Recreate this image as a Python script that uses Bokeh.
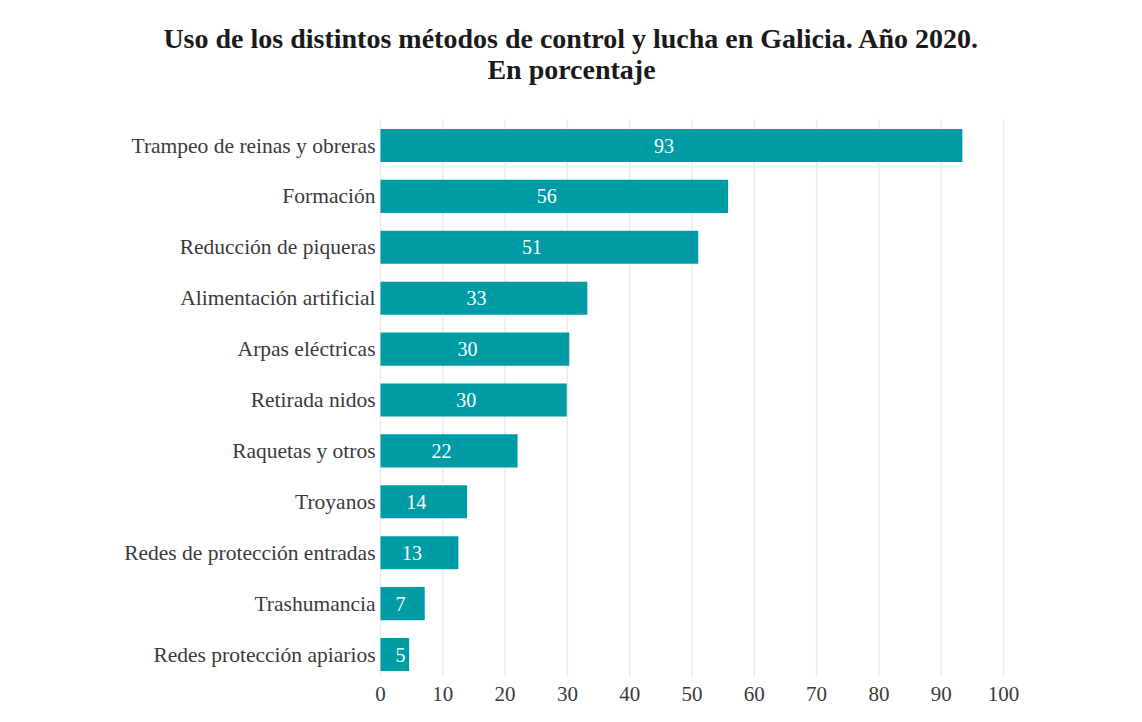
import numpy as np
from bokeh.plotting import figure
from bokeh.models import ColumnDataSource, Range1d, FixedTicker
from bokeh.core.properties import value
from bokeh.embed import file_html
from bokeh.resources import INLINE

categories = [
    "Trampeo de reinas y obreras",
    "Formación",
    "Reducción de piqueras",
    "Alimentación artificial",
    "Arpas eléctricas",
    "Retirada nidos",
    "Raquetas y otros",
    "Troyanos",
    "Redes de protección entradas",
    "Trashumancia",
    "Redes protección apiarios",
]
percentages = [93.4, 55.8, 51.0, 33.2, 30.3, 29.9, 22.0, 13.9, 12.5, 7.1, 4.6]
x_ticks = [0, 10, 20, 30, 40, 50, 60, 70, 80, 90, 100]

title_lines = [
    "Uso de los distintos métodos de control y lucha en Galicia. Año 2020.",
    "En porcentaje",
]

FONT = "Liberation Serif"
TEXT_COLOR = "#3a3a3a"
BAR_COLOR = "#009ca6"

# ---- layout geometry (pixels) ----
W, H = 1126, 706
BOTTOM = 30                 # room for the x axis labels
FRAME_H = H - BOTTOM
X0_PX = 380                 # pixel of x = 0
PX_PER_X = 6.23             # pixels per percentage point
Y0_PX = 145                 # pixel of first category centre
PX_PER_CAT = 50.9           # pixels per category


def xd(px):
    return (px - X0_PX) / PX_PER_X


def yd(px):
    return (px - Y0_PX) / PX_PER_CAT


p = figure(
    width=W, height=H,
    x_range=Range1d(xd(0), xd(W)),
    y_range=Range1d(yd(FRAME_H), yd(0)),
    output_backend="svg", toolbar_location=None,
    min_border_left=0, min_border_right=0, min_border_top=0, min_border_bottom=BOTTOM,
)
p.title = None
p.outline_line_color = None
p.background_fill_color = "white"
p.border_fill_color = "white"
p.grid.grid_line_color = None
p.yaxis.visible = False

# vertical grid lines, only over the bar area
n = len(categories)
gsrc = ColumnDataSource(dict(x=x_ticks, y0=[-0.51] * len(x_ticks), y1=[n - 1 + 0.51] * len(x_ticks)))
p.segment(x0="x", y0="y0", x1="x", y1="y1", source=gsrc, line_color="#ebebeb", line_width=1.5)

vals = np.array(percentages)
ypos = np.arange(n)
labels = [str(int(np.floor(v + 0.5))) for v in vals]
label_x = np.maximum(vals / 2 - 1.2, 3.2)
source = ColumnDataSource(dict(cat=categories, y=ypos, val=vals, lab=labels, lx=label_x,
                               cx=np.full(n, xd(X0_PX - 5))))

p.hbar(y="y", right="val", left=0, height=0.65, source=source,
       fill_color=BAR_COLOR, line_color=None)

p.text(x="lx", y="y", text="lab", source=source,
       text_font=value(FONT), text_font_size="20px", text_color="white",
       text_align="center", text_baseline="middle")

# category labels
p.text(x="cx", y="y", text="cat", source=source,
       text_font=value(FONT), text_font_size="21.5px", text_color=TEXT_COLOR,
       text_align="right", text_baseline="middle")

# title
tsrc = ColumnDataSource(dict(x=[xd(571)] * 2, y=[yd(38), yd(69)], t=title_lines))
p.text(x="x", y="y", text="t", source=tsrc,
       text_font=value(FONT), text_font_size="28px", text_font_style="bold",
       text_color="#1a1a1a", text_align="center", text_baseline="middle")

p.xaxis.ticker = FixedTicker(ticks=x_ticks)
p.xaxis.axis_line_color = None
p.xaxis.major_tick_line_color = None
p.xaxis.minor_tick_line_color = None
p.xaxis.major_label_text_font = FONT
p.xaxis.major_label_text_font_size = "21px"
p.xaxis.major_label_text_color = TEXT_COLOR
p.xaxis.major_label_standoff = 4

open("out.html", "w").write(file_html(p, INLINE))
